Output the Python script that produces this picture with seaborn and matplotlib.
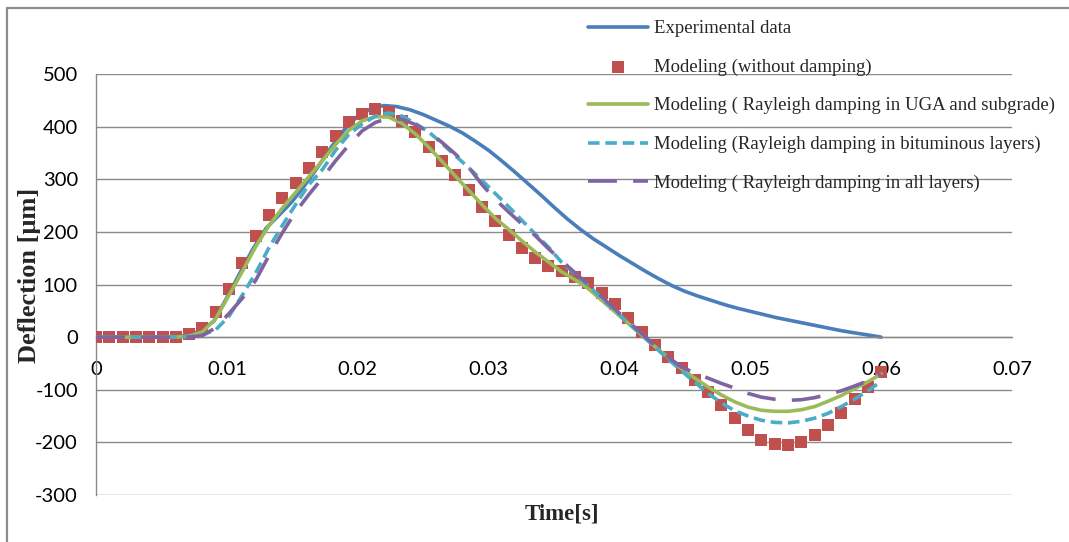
import numpy as np
import pandas as pd
import matplotlib
matplotlib.use("Agg")
import matplotlib.pyplot as plt
from matplotlib.patches import Rectangle
from matplotlib.ticker import FixedLocator
import seaborn as sns

# ---------------- data ----------------
# experimental record: one sample per millisecond, 0 .. 0.060 s
t_exp = np.arange(0, 61) * 0.001
exp_defl = [0, 0, 0, 0, 0, 0, 1, 3, 12, 30,
            75, 122, 168, 207, 232, 258, 290, 325, 362, 395,
            420, 434, 440, 438, 432, 423, 412, 401, 388, 372,
            355, 335, 314, 292, 270, 247, 225, 205, 187, 171,
            155, 140, 125, 111, 98, 87, 78, 70, 62, 55,
            49, 43, 37, 32, 27, 22, 17, 12, 8, 4, 0]

# model output: 60 equally spaced samples from 0 to 0.06 s
t_model = np.linspace(0, 0.06, 60)
no_damping = [0, 0, 0, 0, 0, 0, 1, 5, 18, 47,
              91, 141, 192, 233, 264, 292, 322, 352, 382, 408,
              424, 433, 428, 411, 389, 362, 335, 308, 280, 248,
              221, 194, 169, 150, 136, 126, 115, 102, 83, 62,
              36, 10, -15, -37, -59, -81, -104, -129, -154, -177,
              -196, -203, -205, -199, -186, -167, -144, -118, -94, -66]
uga_damping = [0, 0, 0, 0, 0, 0, 0, 2, 10, 35,
               80, 125, 172, 212, 245, 275, 305, 335, 366, 393,
               411, 419, 418, 406, 386, 361, 334, 306, 279, 252,
               226, 205, 183, 162, 143, 124, 109, 92, 70, 48,
               26, 4, -18, -39, -60, -78, -95, -110, -123, -133,
               -139, -141, -141, -138, -132, -122, -111, -98, -85, -70]
bit_damping = [0, 0, 0, 0, 0, 0, 0, 1, 4, 14,
               40, 80, 122, 170, 212, 252, 290, 318, 355, 385,
               405, 420, 426, 420, 406, 390, 368, 345, 322, 298,
               273, 248, 222, 196, 171, 142, 120, 98, 74, 50,
               27, 4, -19, -42, -64, -86, -107, -125, -140, -150,
               -158, -162, -163, -160, -154, -145, -132, -118, -102, -84]
all_damping = [0, 0, 0, 0, 0, 0, 0, 0, 3, 18,
               45, 74, 108, 155, 198, 238, 271, 302, 335, 365,
               392, 408, 416, 414, 404, 390, 370, 348, 323, 290,
               262, 238, 215, 193, 168, 145, 122, 100, 77, 53,
               30, 7, -16, -38, -57, -68, -78, -88, -97, -107,
               -114, -118, -120, -119, -115, -109, -102, -93, -83, -70]

labels = ["Experimental data",
          "Modeling (without damping)",
          "Modeling ( Rayleigh damping in UGA and subgrade)",
          "Modeling (Rayleigh damping in bituminous layers)",
          "Modeling ( Rayleigh damping in all layers)"]
x_ticks = [0, 0.01, 0.02, 0.03, 0.04, 0.05, 0.06, 0.07]
x_ticklabels = ["0", "0.01", "0.02", "0.03", "0.04", "0.05", "0.06", "0.07"]
y_ticks = [-300, -200, -100, 0, 100, 200, 300, 400, 500]

# ---------------- style ----------------
sns.set_style("white")
plt.rcParams["font.family"] = ["Lato", "DejaVu Sans"]
plt.rcParams["axes.unicode_minus"] = False

c_blue = "#4A7EBB"
c_red = "#C0504D"
c_green = "#9BBB59"
c_cyan = "#4BACC6"
c_purple = "#8064A2"
grid_c = "#8a8a8a"

W, H = 1069, 542
fig = plt.figure(figsize=(W / 100, H / 100), dpi=100)
fig.patch.set_facecolor("white")
ax = fig.add_axes([96 / W, 1 - 495 / H, (1012 - 96) / W, (495 - 74) / H])

df_exp = pd.DataFrame({"t": t_exp, "d": exp_defl})
df_mod = pd.DataFrame({"t": t_model, "none": no_damping, "uga": uga_damping,
                       "bit": bit_damping, "all": all_damping})

sns.lineplot(data=df_exp, x="t", y="d", ax=ax, color=c_blue, lw=2.6,
             label=labels[0], errorbar=None, sort=False)
sns.scatterplot(data=df_mod, x="t", y="none", ax=ax, color=c_red, marker="s",
                s=80, linewidth=0, label=labels[1], zorder=3)
sns.lineplot(data=df_mod, x="t", y="uga", ax=ax, color=c_green, lw=2.6,
             label=labels[2], errorbar=None, sort=False, zorder=4)
sns.lineplot(data=df_mod, x="t", y="bit", ax=ax, color=c_cyan, lw=2.6,
             linestyle=(0, (3.2, 1.6)), label=labels[3], errorbar=None,
             sort=False, zorder=4)
sns.lineplot(data=df_mod, x="t", y="all", ax=ax, color=c_purple, lw=2.6,
             linestyle=(0, (8, 4.5)), label=labels[4], errorbar=None,
             sort=False, zorder=4)

ax.set_xlim(0, 0.07)
ax.set_ylim(-300, 500)
ax.xaxis.set_major_locator(FixedLocator(x_ticks))
ax.set_xticklabels(x_ticklabels)
ax.yaxis.set_major_locator(FixedLocator(y_ticks))
ax.yaxis.grid(True, color=grid_c, lw=1.0)
ax.xaxis.grid(False)
ax.set_axisbelow(True)

for s in ["top", "right"]:
    ax.spines[s].set_visible(False)
ax.spines["left"].set_color(grid_c)
ax.spines["left"].set_linewidth(1.0)
ax.spines["bottom"].set_position(("data", 0))
ax.spines["bottom"].set_color(grid_c)
ax.spines["bottom"].set_linewidth(1.0)

ax.tick_params(axis="y", length=0, pad=13, labelsize=14.5, labelcolor="black")
ax.tick_params(axis="x", length=0, pad=17.5, labelsize=14.5, labelcolor="black")

ax.set_xlabel("Time[s]", family=["Liberation Serif"], fontweight="bold",
              fontsize=16.5, va="center")
ax.xaxis.set_label_coords((562 - 96) / 916, (495 - 514) / 421)
ax.set_ylabel("Deflection [μm]", family=["Liberation Serif"], fontweight="bold",
              fontsize=19, va="center")
ax.yaxis.set_label_coords((30 - 96) / 916, (495 - 275) / 421)

handles, labs = ax.get_legend_handles_labels()
leg = ax.legend(handles, labs, loc="upper left",
                bbox_to_anchor=(588 / W, 1 - 20 / H), bbox_transform=fig.transFigure,
                frameon=False, prop={"family": "Liberation Serif", "size": 13.5},
                handlelength=3.2, handletextpad=0.3, labelspacing=1.14,
                borderpad=0, borderaxespad=0, scatterpoints=1)

# chart-area border (left and top visible)
fig.patches.append(Rectangle((7 / W, -0.05), 1.2, 1.05 - 8 / H,
                             transform=fig.transFigure, fill=False,
                             edgecolor="#8c8c8c", lw=1.6, zorder=0))

fig.savefig("out.png", dpi=100, facecolor="white")
